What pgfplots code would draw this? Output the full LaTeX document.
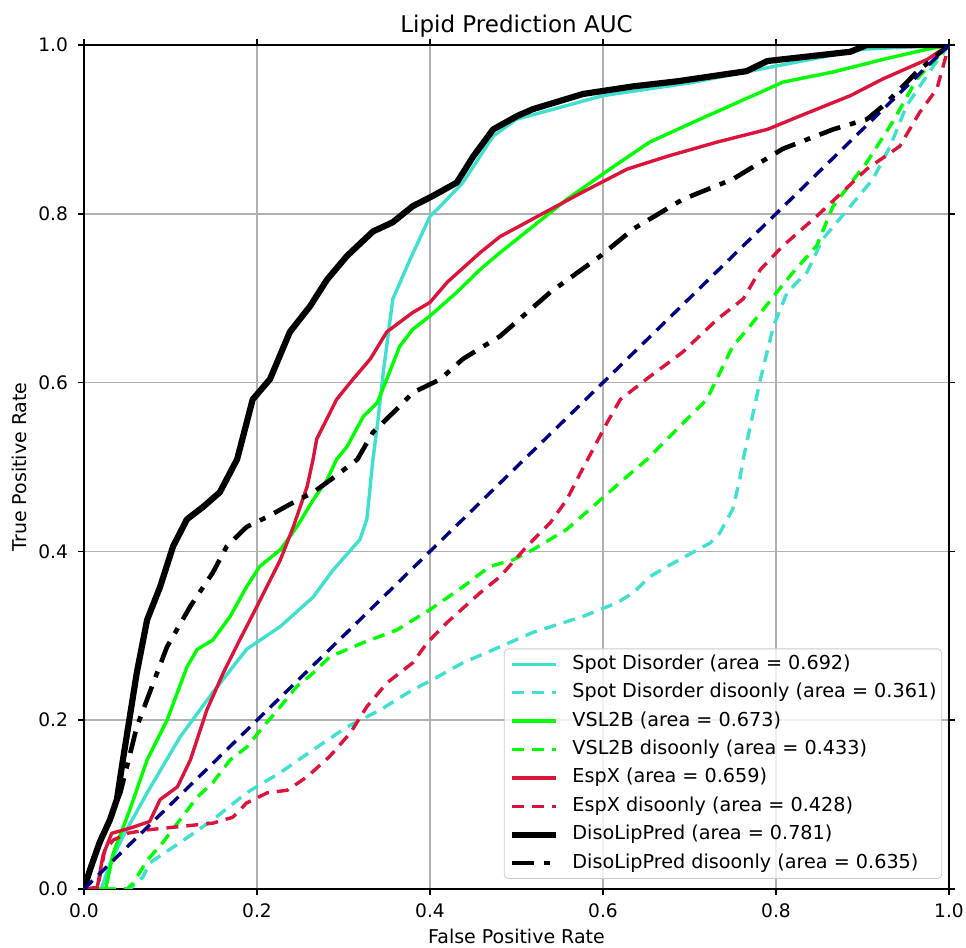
\documentclass[border=0pt]{standalone}
\usepackage{fontspec}
\setmainfont{DejaVu Sans}
\usepackage{pgfplots}
\pgfplotsset{compat=1.18}

\definecolor{turq}{HTML}{40E0D0}
\definecolor{limeg}{HTML}{00FF00}
\definecolor{crims}{HTML}{DC143C}
\definecolor{navyb}{HTML}{000080}
\definecolor{gridgray}{HTML}{B0B0B0}

\tikzset{
  solidc/.style={line width=1.7pt, line join=round},
  dashc/.style={line width=1.7pt, line join=round, dash pattern=on 6pt off 4pt},
}

\begin{document}
\begin{tikzpicture}
\begin{axis}[
  scale only axis, width=432.5pt, height=422pt,
  xmin=0, xmax=1, ymin=0, ymax=1,
  xtick={0,0.2,0.4,0.6,0.8,1}, ytick={0,0.2,0.4,0.6,0.8,1},
  xticklabels={0.0,0.2,0.4,0.6,0.8,1.0}, yticklabels={0.0,0.2,0.4,0.6,0.8,1.0},
  /pgf/number format/assume math mode=true,
  tick align=outside, major tick length=3pt,
  tick style={black, line width=0.75pt},
  axis line style={black, line width=0.75pt},
  grid=major, major grid style={gridgray, line width=0.75pt},
  ticklabel style={font=\fontsize{9.3}{11}\selectfont},
  xticklabel style={anchor=base, yshift=-11.5pt},
  yticklabel style={anchor=east, xshift=-1.5pt},
  title={Lipid Prediction AUC},
  title style={at={(axis description cs:0.5,1)}, anchor=base, inner sep=0pt,
    font=\fontsize{11.5}{14}\selectfont},
  xlabel={False Positive Rate}, ylabel={True Positive Rate},
  label style={font=\fontsize{9.5}{11}\selectfont},
  xlabel style={at={(axis description cs:0.5,-0.064)}, anchor=base, inner sep=0pt},
  ylabel style={at={(axis description cs:-0.066,0.5)}, anchor=base, inner sep=0pt},
  legend cell align=left,
  legend image code/.code={\draw[#1] (0pt,0pt) -- (22pt,0pt);},
  legend style={at={(axis description cs:0.992,0.012)}, anchor=south east,
    font=\fontsize{9.6}{11}\selectfont, draw=black!20, rounded corners=2pt,
    fill=white, fill opacity=0.8, text opacity=1, draw opacity=1,
    inner xsep=2.5pt, inner ysep=3pt, row sep=4.8pt, column sep=6.5pt,
    nodes={inner sep=0pt, text height=7.2pt, text depth=2.2pt}},
]
% Spot Disorder
\addplot[turq, solidc] coordinates {
(0,0)(0.02,0)(0.03,0.03)(0.045,0.062)(0.073,0.114)(0.111,0.180)(0.149,0.233)
(0.188,0.284)(0.227,0.311)(0.265,0.346)(0.288,0.378)(0.319,0.414)(0.327,0.438)
(0.334,0.509)(0.339,0.548)(0.346,0.612)(0.357,0.699)(0.377,0.746)(0.400,0.797)
(0.412,0.809)(0.438,0.837)(0.473,0.892)(0.5,0.912)(0.6,0.94)(0.7,0.955)
(0.8,0.975)(0.9,0.995)(1,1)};
\addlegendentry{Spot Disorder (area = 0.692)}
\addplot[turq, dashc] coordinates {
(0,0)(0.053,0)(0.068,0.014)(0.076,0.031)(0.111,0.055)(0.149,0.082)(0.188,0.114)
(0.227,0.138)(0.265,0.165)(0.304,0.192)(0.342,0.212)(0.380,0.236)(0.403,0.248)
(0.438,0.268)(0.481,0.287)(0.519,0.304)(0.577,0.323)(0.616,0.339)(0.635,0.351)
(0.654,0.370)(0.674,0.382)(0.704,0.399)(0.724,0.410)(0.735,0.422)(0.750,0.450)
(0.758,0.485)(0.762,0.509)(0.782,0.604)(0.797,0.667)(0.813,0.707)(0.836,0.731)
(0.854,0.770)(0.886,0.809)(0.912,0.841)(0.932,0.880)(0.951,0.928)(0.982,0.975)(1,1)};
\addlegendentry{Spot Disorder disoonly (area = 0.361)}
% VSL2B
\addplot[limeg, solidc] coordinates {
(0,0)(0.025,0)(0.034,0.043)(0.053,0.094)(0.073,0.153)(0.096,0.200)(0.119,0.263)
(0.131,0.284)(0.149,0.295)(0.169,0.323)(0.188,0.358)(0.203,0.382)(0.227,0.402)
(0.246,0.429)(0.265,0.461)(0.281,0.485)(0.292,0.509)(0.304,0.524)(0.323,0.560)
(0.339,0.576)(0.350,0.604)(0.365,0.643)(0.380,0.663)(0.400,0.679)(0.431,0.707)
(0.458,0.734)(0.481,0.754)(0.519,0.785)(0.558,0.817)(0.608,0.853)(0.654,0.885)
(0.712,0.912)(0.782,0.944)(0.808,0.956)(0.866,0.968)(0.924,0.983)(0.975,0.995)(1,1)};
\addlegendentry{VSL2B (area = 0.673)}
\addplot[limeg, dashc] coordinates {
(0,0)(0.05,0)(0.057,0.007)(0.073,0.034)(0.091,0.055)(0.111,0.082)(0.131,0.109)
(0.149,0.126)(0.169,0.153)(0.188,0.168)(0.207,0.192)(0.227,0.216)(0.246,0.240)
(0.265,0.256)(0.284,0.275)(0.323,0.292)(0.362,0.307)(0.400,0.331)(0.438,0.358)
(0.469,0.382)(0.496,0.390)(0.519,0.402)(0.558,0.426)(0.597,0.461)(0.628,0.489)
(0.651,0.509)(0.674,0.533)(0.720,0.580)(0.750,0.643)(0.770,0.667)(0.801,0.707)
(0.820,0.731)(0.847,0.762)(0.866,0.809)(0.905,0.861)(0.935,0.909)(0.963,0.960)(1,1)};
\addlegendentry{VSL2B disoonly (area = 0.433)}
% EspX
\addplot[crims, solidc] coordinates {
(0,0)(0.015,0)(0.022,0.04)(0.032,0.066)(0.053,0.072)(0.076,0.080)(0.088,0.106)
(0.108,0.121)(0.123,0.153)(0.142,0.212)(0.161,0.256)(0.180,0.295)(0.200,0.335)
(0.227,0.390)(0.242,0.429)(0.258,0.477)(0.265,0.510)(0.269,0.533)(0.292,0.580)
(0.311,0.604)(0.331,0.628)(0.350,0.660)(0.380,0.683)(0.400,0.695)(0.420,0.719)
(0.458,0.754)(0.481,0.773)(0.519,0.794)(0.577,0.826)(0.628,0.853)(0.674,0.868)
(0.732,0.885)(0.790,0.900)(0.828,0.916)(0.886,0.940)(0.924,0.960)(0.975,0.983)(1,1)};
\addlegendentry{EspX (area = 0.659)}
\addplot[crims, dashc] coordinates {
(0,0)(0.016,0.002)(0.024,0.046)(0.034,0.058)(0.05,0.066)(0.073,0.070)(0.111,0.074)
(0.149,0.078)(0.172,0.085)(0.188,0.102)(0.212,0.114)(0.235,0.117)(0.258,0.133)
(0.284,0.157)(0.308,0.185)(0.327,0.216)(0.350,0.244)(0.380,0.268)(0.397,0.292)
(0.420,0.316)(0.458,0.351)(0.481,0.370)(0.512,0.406)(0.539,0.434)(0.558,0.461)
(0.573,0.491)(0.605,0.553)(0.620,0.580)(0.654,0.607)(0.692,0.636)(0.732,0.675)
(0.762,0.699)(0.782,0.734)(0.808,0.762)(0.847,0.797)(0.905,0.853)(0.943,0.880)
(0.966,0.920)(0.986,0.948)(1,1)};
\addlegendentry{EspX disoonly (area = 0.428)}
% DisoLipPred
\addplot[black, line width=3.1pt, line join=round] coordinates {
(0,0)(0.007,0.023)(0.018,0.055)(0.03,0.082)(0.038,0.106)(0.045,0.153)(0.061,0.256)
(0.073,0.319)(0.088,0.358)(0.103,0.406)(0.119,0.438)(0.138,0.453)(0.157,0.470)
(0.177,0.509)(0.195,0.580)(0.215,0.604)(0.238,0.660)(0.261,0.690)(0.281,0.722)
(0.304,0.750)(0.334,0.779)(0.357,0.790)(0.380,0.809)(0.403,0.821)(0.431,0.837)
(0.450,0.868)(0.473,0.900)(0.501,0.916)(0.519,0.924)(0.577,0.942)(0.635,0.951)
(0.686,0.957)(0.766,0.969)(0.790,0.981)(0.886,0.992)(0.905,1)(1,1)};
\addlegendentry{DisoLipPred (area = 0.781)}
\addplot[black, line width=2.3pt, line join=round, dash pattern=on 11pt off 5pt on 3pt off 5pt] coordinates {
(0,0)(0.010,0.034)(0.042,0.114)(0.061,0.192)(0.076,0.233)(0.096,0.287)(0.123,0.335)
(0.149,0.375)(0.165,0.406)(0.188,0.429)(0.212,0.441)(0.242,0.458)(0.265,0.470)
(0.288,0.487)(0.316,0.509)(0.334,0.541)(0.365,0.572)(0.380,0.588)(0.412,0.604)
(0.438,0.628)(0.481,0.655)(0.539,0.707)(0.597,0.750)(0.635,0.782)(0.692,0.817)
(0.750,0.841)(0.808,0.877)(0.866,0.900)(0.905,0.912)(0.924,0.928)(0.963,0.968)(1,1)};
\addlegendentry{DisoLipPred disoonly (area = 0.635)}
% chance line
\addplot[navyb, line width=1.7pt, dash pattern=on 6pt off 4pt, forget plot] coordinates {(0,0)(1,1)};
\end{axis}
\pgfresetboundingbox
\path ([shift={(-42pt,-29.5pt)}]current axis.south west) rectangle ([shift={(8.5pt,22.5pt)}]current axis.north east);
\end{tikzpicture}
\end{document}
